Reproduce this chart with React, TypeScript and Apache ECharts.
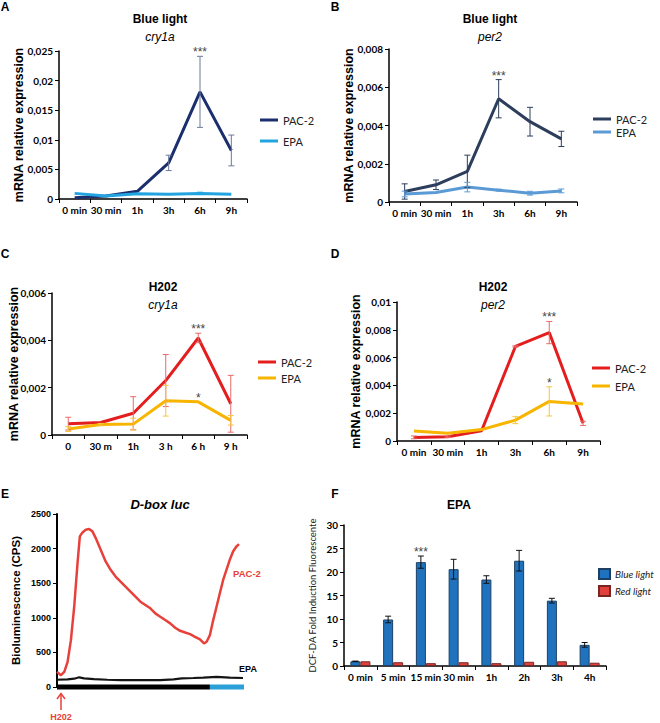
import React, { useEffect, useRef } from "react";
import * as echarts from "echarts";

// ---------- data ----------
const timeCats = ["0 min", "30 min", "1h", "3h", "6h", "9h"];
const timeCatsC = ["0", "30 m", "1h", "3 h", "6 h", "9 h"];

// Panel A: Blue light, cry1a
const aPac = [0.0002, 0.0005, 0.0013, 0.0061, 0.0181, 0.0082];
const aPacErr = [0, 0, 0, 0.0013, 0.006, 0.0026];
const aEpa = [0.00095, 0.0005, 0.0009, 0.0008, 0.00095, 0.0008];
const aEpaErr = [0, 0, 0, 0, 0.0002, 0];

// Panel B: Blue light, per2
const bPac = [0.00055, 0.0009, 0.0016, 0.0054, 0.0042, 0.0033];
const bPacErr = [0.0004, 0.00025, 0.00085, 0.001, 0.00075, 0.0004];
const bEpa = [0.00042, 0.0005, 0.00078, 0.00062, 0.00046, 0.00058];
const bEpaErr = [0.00015, 0, 0.00025, 0.00005, 0.0001, 0.0001];

// Panel C: H2O2, cry1a
const cPac = [0.00048, 0.00053, 0.00092, 0.0023, 0.0041, 0.00132];
const cPacErr = [0.00027, 0, 0.0007, 0.0011, 0.0002, 0.0012];
const cEpa = [0.00025, 0.00044, 0.00046, 0.00145, 0.0014, 0.00062];
const cEpaErr = [0.0001, 0.00005, 0.00025, 0.00065, 0, 0.0002];

// Panel D: H2O2, per2
const dPac = [0.00026, 0.00031, 0.00074, 0.0068, 0.0078, 0.00127];
const dPacErr = [0.0001, 0.00005, 0, 0.00005, 0.0008, 0.00015];
const dEpa = [0.00072, 0.00056, 0.00082, 0.0015, 0.00285, 0.00266];
const dEpaErr = [0, 0, 0, 0.00025, 0.00105, 0];

// Panel E: D-box luc bioluminescence trace (time in arbitrary units)
const ePacT = [0, 12, 22, 32, 42, 52, 62, 69, 77, 87, 97, 107, 117, 132, 147, 162, 177, 192, 207, 222, 237, 252, 267, 282, 297, 312, 327, 342, 357, 372, 387, 402, 417, 432, 444, 452, 462, 472, 482, 492, 502, 512, 522, 532, 542, 550];
const ePacV = [218, 170, 218, 363, 677, 1160, 1790, 2176, 2234, 2273, 2283, 2249, 2152, 1983, 1814, 1693, 1596, 1523, 1451, 1378, 1306, 1233, 1185, 1137, 1064, 1016, 967, 919, 856, 812, 788, 764, 725, 687, 629, 653, 750, 967, 1160, 1354, 1547, 1693, 1838, 1959, 2031, 2065];
const eEpaT = [0, 32, 52, 67, 82, 112, 152, 192, 232, 272, 312, 352, 377, 412, 442, 482, 522, 562];
const eEpaV = [105, 110, 120, 140, 125, 115, 105, 100, 100, 100, 100, 110, 125, 130, 135, 145, 135, 130];
const eDarkPhase = [0, 462];
const eLightPhase = [462, 565];

// Panel F: EPA DCF-DA fold induction
const fCats = ["0 min", "5 min", "15 min", "30 min", "1h", "2h", "3h", "4h"];
const fBlue = [1.0, 9.9, 22.1, 20.6, 18.4, 22.4, 13.9, 4.5];
const fBlueErr = [0.05, 0.7, 1.3, 2.1, 0.8, 2.2, 0.5, 0.5];
const fRed = [1.0, 0.8, 0.6, 0.8, 0.6, 0.9, 1.0, 0.7];

// significance marks
const sigA = [{ cat: 4, y: 0.0241, mark: "***" }];
const sigB = [{ cat: 3, y: 0.0064, mark: "***" }];
const sigC = [{ cat: 4, y: 0.0043, mark: "***" }, { cat: 4, y: 0.0014, mark: "*" }];
const sigD = [{ cat: 4, y: 0.0086, mark: "***" }, { cat: 4, y: 0.0039, mark: "*" }];
const sigF = [{ cat: 2, y: 23.4, mark: "***" }];

// ---------- styling helpers ----------
const SANS = "'Liberation Sans', Arial, sans-serif";
const XL = "Lato, 'Open Sans', sans-serif";

const fmtComma = (v: number) => String(parseFloat(v.toFixed(4))).replace(".", ",");

function catAxis(grid: number, data: string[]) {
  return {
    type: "category", gridIndex: grid, data, boundaryGap: true,
    axisLine: { show: true, lineStyle: { color: "#000", width: 1.5 } },
    axisTick: { show: true, length: 4, lineStyle: { color: "#000", width: 1 } },
    axisLabel: { color: "#000", fontWeight: "bold", fontSize: 10, fontFamily: XL, margin: 6, interval: 0 },
    splitLine: { show: false },
  };
}

function valAxis(grid: number, max: number, interval: number, name: string, nameGap: number, fmt: any, nameStyle: any = {}) {
  return {
    type: "value", gridIndex: grid, min: 0, max, interval, name,
    nameLocation: "middle", nameGap, nameRotate: 90, nameMoveOverlap: false,
    nameTextStyle: { fontFamily: SANS, fontWeight: "bold", fontSize: 12.5, color: "#000", ...nameStyle },
    axisLine: { show: true, lineStyle: { color: "#000", width: 1.5 } },
    axisTick: { show: true, length: 4, lineStyle: { color: "#000", width: 1 } },
    splitLine: { show: false },
    axisLabel: { color: "#000", fontWeight: "bold", fontSize: 10, fontFamily: XL, margin: 6, formatter: fmt },
  };
}

function errData(vals: number[], errs: number[]) {
  return vals.map((v, i) => [i, v - errs[i], v + errs[i]]).filter((d, i) => errs[i] > 0);
}

function errSeries(ai: number, data: number[][], color: string, offset = 0, cap = 3, width = 1) {
  return {
    type: "custom", xAxisIndex: ai, yAxisIndex: ai, data, z: 6, silent: true,
    renderItem: (_p: any, api: any) => {
      const i = api.value(0);
      const lo = api.coord([i, api.value(1)]);
      const hi = api.coord([i, api.value(2)]);
      const x = lo[0] + offset;
      const st = { stroke: color, lineWidth: width };
      return {
        type: "group",
        children: [
          { type: "line", shape: { x1: x, y1: lo[1], x2: x, y2: hi[1] }, style: st },
          { type: "line", shape: { x1: x - cap, y1: lo[1], x2: x + cap, y2: lo[1] }, style: st },
          { type: "line", shape: { x1: x - cap, y1: hi[1], x2: x + cap, y2: hi[1] }, style: st },
        ],
      };
    },
  };
}

function sigSeries(ai: number, sig: { cat: number; y: number; mark: string }[], offset = 0) {
  return {
    type: "custom", xAxisIndex: ai, yAxisIndex: ai, z: 7, silent: true,
    data: sig.map((s) => [s.cat, s.y]),
    renderItem: (p: any, api: any) => {
      const c = api.coord([api.value(0), api.value(1)]);
      return {
        type: "text", x: c[0] + offset, y: c[1] + 2,
        style: { text: sig[p.dataIndex].mark, align: "center", verticalAlign: "bottom", fill: "#444", font: `12px ${SANS}` },
      };
    },
  };
}

function lineSeries(ai: number, name: string, data: any[], color: string, width = 3) {
  return {
    type: "line", name, xAxisIndex: ai, yAxisIndex: ai, data, symbol: "none", z: 4,
    lineStyle: { color, width }, itemStyle: { color }, silent: true,
  };
}

function legendAt(names: string[], left: number, top: number, gap: number, lh: number, extra: any = {}) {
  return {
    data: names, orient: "vertical", left, top, padding: 0, itemWidth: 18, itemHeight: 3, icon: "rect",
    itemGap: gap, selectedMode: false,
    textStyle: { fontSize: 11, fontFamily: XL, color: "#222", lineHeight: lh },
    formatter: (n: string) => n.trim(),
    ...extra,
  };
}

function txt(text: string, x: number, y: number, font: string, fill = "#000", align = "center") {
  return { type: "text", x, y, silent: true, style: { text, font, fill, align, verticalAlign: "middle" } };
}

const COL = {
  aPac: "#1b2f6e", aEpa: "#22a4e0",
  bPac: "#2c3e5c", bEpa: "#5b9bd5",
  hPac: "#e41e1e", hEpa: "#f7b500",
  ePac: "#e8413b", eEpa: "#151515", eLight: "#2a9fd8",
  fBlue: "#1f73be", fRed: "#e0413c",
};

export default function App() {
  const ref = useRef<HTMLDivElement>(null);

  useEffect(() => {
    if (!ref.current) return;
    const chart = echarts.init(ref.current, null, { renderer: "svg" });

    const nm = (n: string, k: number) => n + " ".repeat(k);

    const option: any = {
      animation: false,
      backgroundColor: "#fff",
      grid: [
        { left: 59, top: 51, width: 188, height: 148, outerBoundsMode: "none" },
        { left: 389, top: 49, width: 188, height: 153, outerBoundsMode: "none" },
        { left: 52, top: 293, width: 195, height: 142, outerBoundsMode: "none" },
        { left: 397, top: 302, width: 203, height: 139, outerBoundsMode: "none" },
        { left: 57, top: 514, width: 187, height: 173, outerBoundsMode: "none" },
        { left: 344, top: 525, width: 262, height: 141, outerBoundsMode: "none" },
      ],
      xAxis: [
        catAxis(0, timeCats),
        catAxis(1, timeCats),
        catAxis(2, timeCatsC),
        catAxis(3, timeCats),
        { type: "value", gridIndex: 4, min: 0, max: 565, show: false },
        catAxis(5, fCats),
      ],
      yAxis: [
        valAxis(0, 0.025, 0.005, "mRNA relative expression", 34, fmtComma),
        valAxis(1, 0.008, 0.002, "mRNA relative expression", 34, fmtComma),
        valAxis(2, 0.006, 0.002, "mRNA relative expression", 32, fmtComma),
        valAxis(3, 0.01, 0.002, "mRNA relative expression", 35, fmtComma),
        {
          ...valAxis(4, 2500, 500, "Bioluminescence (CPS)", 35, (v: number) => String(v), { fontSize: 11.5 }),
          axisLine: { show: true, lineStyle: { color: "#000", width: 2 } },
          axisLabel: { color: "#000", fontWeight: "bold", fontSize: 9, fontFamily: SANS, margin: 6, formatter: (v: number) => String(v) },
        },
        valAxis(5, 30, 5, "DCF-DA Fold Induction Fluorescente", 27, (v: number) => String(v), { fontFamily: XL, fontWeight: "normal", fontSize: 9.5, color: "#222" }),
      ],
      legend: [
        legendAt([nm("PAC-2", 0), nm("EPA", 0)], 260, 113, 7, 14),
        legendAt([nm("PAC-2", 1), nm("EPA", 1)], 593, 113, 1, 12),
        legendAt([nm("PAC-2", 2), nm("EPA", 2)], 258, 355, 2, 14),
        legendAt([nm("PAC-2", 3), nm("EPA", 3)], 592, 361, 4, 14),
        legendAt(["Blue light", "Red light"], 598, 567, 3, 14, {
          icon: "rect", itemWidth: 11, itemHeight: 10,
          textStyle: { fontSize: 10, fontFamily: XL, fontStyle: "italic", color: "#222", lineHeight: 14 },
        }),
      ],
      series: [
        // A
        lineSeries(0, nm("PAC-2", 0), aPac, COL.aPac),
        lineSeries(0, nm("EPA", 0), aEpa, COL.aEpa),
        errSeries(0, errData(aPac, aPacErr), "#6b7a99"),
        errSeries(0, errData(aEpa, aEpaErr), COL.aEpa),
        sigSeries(0, sigA),
        // B
        lineSeries(1, nm("PAC-2", 1), bPac, COL.bPac),
        lineSeries(1, nm("EPA", 1), bEpa, COL.bEpa),
        errSeries(1, errData(bPac, bPacErr), COL.bPac),
        errSeries(1, errData(bEpa, bEpaErr), COL.bEpa),
        sigSeries(1, sigB),
        // C
        lineSeries(2, nm("PAC-2", 2), cPac, COL.hPac),
        lineSeries(2, nm("EPA", 2), cEpa, COL.hEpa),
        errSeries(2, errData(cPac, cPacErr), "#e86a6a"),
        errSeries(2, errData(cEpa, cEpaErr), "#f5c542"),
        sigSeries(2, sigC),
        // D
        lineSeries(3, nm("PAC-2", 3), dPac, COL.hPac),
        lineSeries(3, nm("EPA", 3), dEpa, COL.hEpa),
        errSeries(3, errData(dPac, dPacErr), "#e86a6a"),
        errSeries(3, errData(dEpa, dEpaErr), "#f5c542"),
        sigSeries(3, sigD),
        // E
        lineSeries(4, "PAC-2 trace", ePacT.map((t, i) => [t, ePacV[i]]), COL.ePac, 2.5),
        lineSeries(4, "EPA trace", eEpaT.map((t, i) => [t, eEpaV[i]]), COL.eEpa, 2.2),
        { ...lineSeries(4, "dark", eDarkPhase.map((t) => [t, 0]), "#000", 5), clip: false, z: 8 },
        { ...lineSeries(4, "light", eLightPhase.map((t) => [t, 0]), COL.eLight, 5), clip: false, z: 8 },
        // F
        {
          type: "bar", name: "Blue light", xAxisIndex: 5, yAxisIndex: 5, data: fBlue, barWidth: 10, barGap: "0%",
          itemStyle: { color: COL.fBlue, borderColor: "#1d3f63", borderWidth: 1 }, silent: true,
        },
        {
          type: "bar", name: "Red light", xAxisIndex: 5, yAxisIndex: 5, data: fRed, barWidth: 10, barGap: "0%",
          itemStyle: { color: COL.fRed, borderColor: "#7a2522", borderWidth: 1 }, silent: true,
        },
        errSeries(5, errData(fBlue, fBlueErr), "#111", -5, 3, 1),
        sigSeries(5, sigF, -5),
      ],
      graphic: [
        // panel letters
        txt("A", 5, 7, `bold 12px ${SANS}`),
        txt("B", 335, 7, `bold 12px ${SANS}`),
        txt("C", 5, 254, `bold 12px ${SANS}`),
        txt("D", 335, 254, `bold 12px ${SANS}`),
        txt("E", 5, 494, `bold 12px ${SANS}`),
        txt("F", 335, 494, `bold 12px ${SANS}`),
        // titles
        txt("Blue light", 160, 19, `bold 12px ${SANS}`),
        txt("cry1a", 160, 37, `italic 12px ${SANS}`),
        txt("Blue light", 490, 19, `bold 12px ${SANS}`),
        txt("per2", 490, 37, `italic 12px ${SANS}`),
        txt("H202", 163, 287, `bold 12px ${SANS}`),
        txt("cry1a", 163, 305, `italic 12px ${SANS}`),
        txt("H202", 493, 287, `bold 12px ${SANS}`),
        txt("per2", 493, 305, `italic 12px ${SANS}`),
        txt("D-box luc", 160, 504, `italic bold 13px ${SANS}`),
        txt("EPA", 459, 505, `bold 12px ${SANS}`),
        // panel E annotations
        txt("PAC-2", 247, 573, `bold 9.5px ${SANS}`, COL.ePac),
        txt("EPA", 248, 669, `bold 9px ${SANS}`, "#000"),
        txt("H202", 61, 717, `bold 9px ${SANS}`, COL.ePac),
        { type: "line", silent: true, shape: { x1: 61, y1: 710, x2: 61, y2: 694 }, style: { stroke: COL.ePac, lineWidth: 1.5 } },
        { type: "polyline", silent: true, shape: { points: [[57, 699], [61, 693.5], [65, 699]] }, style: { stroke: COL.ePac, lineWidth: 1.5, fill: null } },
      ],
    };

    chart.setOption(option);
    return () => chart.dispose();
  }, []);

  return (
    <div
      ref={ref}
      style={{ position: "absolute", left: 0, top: 0, width: 660, height: 723, background: "#fff" }}
    />
  );
}
